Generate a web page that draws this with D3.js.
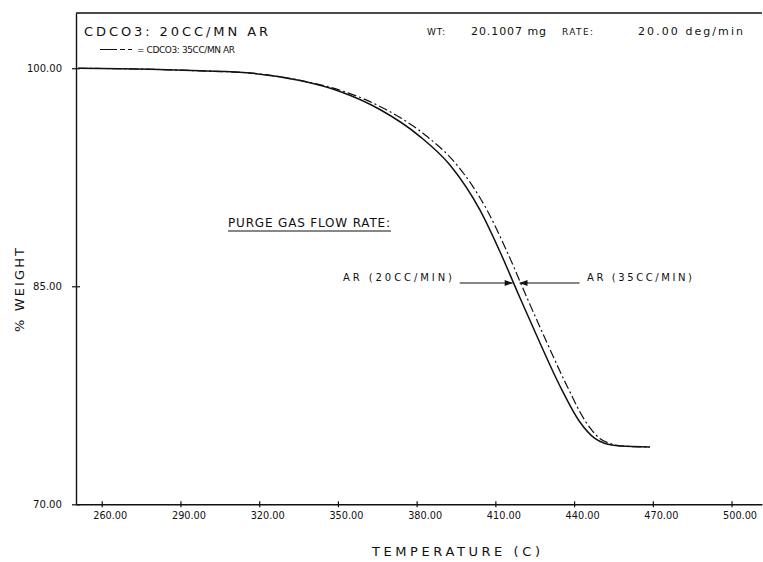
<!DOCTYPE html>
<html>
<head>
<meta charset="utf-8">
<script src="https://cdn.jsdelivr.net/npm/d3@7.9.0/dist/d3.min.js"></script>
<style>
  body { margin: 0; background: #fff; }
  svg { display: block; }
  text { fill: #111; font-family: "DejaVu Sans", sans-serif; }
  .tick text { font-family: "DejaVu Sans Condensed", "DejaVu Sans", sans-serif; }
</style>
</head>
<body>
<svg id="chart" width="763" height="562"></svg>
<script>
// TGA run: CdCO3 in argon, two purge gas flow rates
const tempSolid = [251.0, 278.4, 297.5, 316.5, 335.6, 350.8, 366.0, 381.3, 392.7, 404.1, 411.8, 419.4, 427.0, 434.6, 442.2, 447.9, 451.8, 457.5, 468.9];
const weightSolid = [100.0, 99.93, 99.82, 99.67, 99.15, 98.40, 97.16, 95.30, 93.34, 90.25, 87.36, 84.19, 81.10, 78.14, 75.66, 74.53, 74.18, 74.01, 73.94];

const tempDash = [251.0, 278.4, 297.5, 316.5, 336.0, 352.3, 368.3, 384.0, 395.4, 406.8, 414.5, 422.1, 429.7, 437.3, 444.5, 449.8, 453.7, 458.3, 468.9];
const weightDash = [100.0, 99.93, 99.82, 99.67, 99.15, 98.40, 97.16, 95.30, 93.34, 90.25, 87.36, 84.19, 81.10, 78.14, 75.66, 74.53, 74.18, 74.01, 73.94];

const xTicks = [260, 290, 320, 350, 380, 410, 440, 470, 500];
const yTicks = [70, 85, 100];

// arrows point at the curves at this weight level
const arrowWeight = 85.22;
const arrowTemps = [416.6, 419.2]; // [20cc, 35cc]

const svg = d3.select('#chart');

let x = d3.scaleLinear().domain([250.2, 511.6]).range([76, 762]);
let y = d3.scaleLinear().domain([70, 103.8]).range([504.3, 13]);

// top border of the plot
svg.append('line')
  .attr('x1', 76).attr('x2', 762)
  .attr('y1', 13).attr('y2', 13)
  .attr('stroke', '#111').attr('stroke-width', 1.3);

// x axis, ticks crossing the line
let xAxis = svg.append('g')
  .attr('transform', `translate(0,${y(70)})`)
  .call(d3.axisBottom(x).tickValues(xTicks).tickFormat(d3.format('.2f')).tickSizeInner(3).tickSizeOuter(0).tickPadding(4));
xAxis.selectAll('.tick line').attr('y1', -3);
xAxis.selectAll('.tick text')
  .attr('dx', 8)
  .attr('font-size', 11)
  .attr('textLength', 34)
  .attr('lengthAdjust', 'spacingAndGlyphs');

// y axis
let yAxis = svg.append('g')
  .attr('transform', `translate(${x(250.2)},0)`)
  .call(d3.axisLeft(y).tickValues(yTicks).tickFormat(d3.format('.2f')).tickSizeInner(4).tickSizeOuter(0).tickPadding(10));
yAxis.selectAll('.tick line').attr('x1', 4);
yAxis.selectAll('.tick text')
  .attr('font-size', 11)
  .attr('textLength', (d) => d >= 100 ? 35 : 29)
  .attr('lengthAdjust', 'spacingAndGlyphs');

svg.selectAll('.domain').attr('stroke', '#111').attr('stroke-width', 1.4);
svg.selectAll('.tick line').attr('stroke', '#111').attr('stroke-width', 1.2);

// curves
let lineGen = d3.line()
  .x((d) => x(d[0]))
  .y((d) => y(d[1]))
  .curve(d3.curveMonotoneX);

let solidData = tempSolid.map((t, i) => [t, weightSolid[i]]);
let dashData = tempDash.map((t, i) => [t, weightDash[i]]);

svg.append('path')
  .attr('d', lineGen(dashData))
  .attr('fill', 'none')
  .attr('stroke', '#111')
  .attr('stroke-width', 1.2)
  .attr('stroke-dasharray', '9,3,2,3');

svg.append('path')
  .attr('d', lineGen(solidData))
  .attr('fill', 'none')
  .attr('stroke', '#111')
  .attr('stroke-width', 1.5);

// header texts
svg.append('text')
  .attr('x', 84).attr('y', 36)
  .attr('font-size', 13)
  .attr('textLength', 184)
  .text('CDCO3:  20CC/MN AR');

svg.append('line')
  .attr('x1', 100).attr('x2', 133)
  .attr('y1', 49.5).attr('y2', 49.5)
  .attr('stroke', '#111').attr('stroke-width', 1)
  .attr('stroke-dasharray', '17,3,5,3,4');

svg.append('text')
  .attr('x', 137).attr('y', 53)
  .attr('font-size', 9)
  .attr('textLength', 98)
  .text('= CDCO3:  35CC/MN AR');

let header = [
  { label: 'WT:', x: 427, w: 18, size: 9 },
  { label: '20.1007 mg', x: 471, w: 75, size: 11 },
  { label: 'RATE:', x: 562, w: 31, size: 9 },
  { label: '20.00 deg/min', x: 638, w: 105, size: 11 },
];
header.forEach((h) => {
  svg.append('text')
    .attr('x', h.x).attr('y', 34.5)
    .attr('font-size', h.size)
    .attr('textLength', h.w)
    .text(h.label);
});

// axis titles
svg.append('text')
  .attr('transform', 'translate(24,290) rotate(-90)')
  .attr('text-anchor', 'middle')
  .attr('font-size', 13)
  .attr('textLength', 84)
  .text('% WEIGHT');

svg.append('text')
  .attr('x', 456).attr('y', 556)
  .attr('text-anchor', 'middle')
  .attr('font-size', 13)
  .attr('textLength', 168)
  .text('TEMPERATURE  (C)');

// annotation
svg.append('text')
  .attr('x', 228).attr('y', 226.5)
  .attr('font-size', 12)
  .attr('textLength', 162)
  .text('PURGE GAS FLOW RATE:');
svg.append('line')
  .attr('x1', 228).attr('x2', 391)
  .attr('y1', 231).attr('y2', 231)
  .attr('stroke', '#111').attr('stroke-width', 1.1);

let ay = y(arrowWeight);
let tipL = x(arrowTemps[0]);
let tipR = x(arrowTemps[1]);

svg.append('text')
  .attr('x', 343).attr('y', ay - 2)
  .attr('font-size', 10)
  .attr('textLength', 109)
  .text('AR  (20CC/MIN)');
svg.append('text')
  .attr('x', 587).attr('y', ay - 2)
  .attr('font-size', 10)
  .attr('textLength', 105)
  .text('AR  (35CC/MIN)');

// arrow lines with heads
svg.append('line')
  .attr('x1', tipL - 53).attr('x2', tipL)
  .attr('y1', ay).attr('y2', ay)
  .attr('stroke', '#111').attr('stroke-width', 1.1);
svg.append('path')
  .attr('d', `M${tipL},${ay} l-8,-3 l0,6 z`)
  .attr('fill', '#111');

svg.append('line')
  .attr('x1', tipR).attr('x2', tipR + 60)
  .attr('y1', ay).attr('y2', ay)
  .attr('stroke', '#111').attr('stroke-width', 1.1);
svg.append('path')
  .attr('d', `M${tipR},${ay} l8,-3 l0,6 z`)
  .attr('fill', '#111');
</script>
</body>
</html>
